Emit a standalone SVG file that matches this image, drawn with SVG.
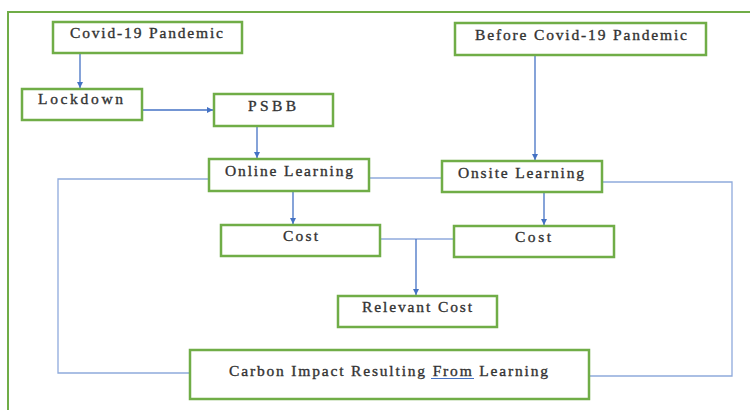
<svg xmlns="http://www.w3.org/2000/svg" width="750" height="410" viewBox="0 0 750 410">
<defs>
<marker id="ah" viewBox="0 0 10 10" refX="10" refY="5" markerWidth="6" markerHeight="6" markerUnits="userSpaceOnUse" orient="auto">
<path d="M0,0 L10,5 L0,10 z" fill="#4472C4"/>
</marker>
<style>
.box{fill:#fff;stroke:#70AD47;stroke-width:2.5}
.t{font-family:"Liberation Serif","Times New Roman",serif;font-size:15.5px;fill:#333;stroke:#333;stroke-width:0.35}
.arr{stroke:#4472C4;stroke-width:1.3;fill:none;marker-end:url(#ah)}
.ln{stroke:#8FAADC;stroke-width:1.3;fill:none}
</style>
</defs>
<rect width="750" height="410" fill="#fff"/>
<path d="M8,410 V12 H750" fill="none" stroke="#70AD47" stroke-width="2"/>
<g id="connectors">
<line class="arr" x1="80" y1="53" x2="80" y2="88"/>
<line class="arr" x1="142" y1="110" x2="213" y2="110"/>
<line class="arr" x1="257" y1="126" x2="257" y2="158"/>
<line class="arr" x1="535" y1="55" x2="535" y2="160"/>
<line class="arr" x1="293" y1="191" x2="293" y2="224"/>
<line class="arr" x1="544" y1="192" x2="544" y2="225"/>
<path class="ln" d="M380,239 H454"/>
<line class="arr" x1="416" y1="239" x2="416" y2="295"/>
<path class="ln" d="M209,179 H58 V373 H190"/>
<path class="ln" d="M369,178 H442"/>
<path class="ln" d="M602,182 H732 V376 H589"/>
</g>
<g id="covid"><rect class="box" x="53" y="22" width="189" height="31"/><text class="t" x="70" y="38" textLength="153" lengthAdjust="spacing">Covid-19 Pandemic</text></g>
<g id="lockdown"><rect class="box" x="22" y="89" width="120" height="31"/><text class="t" x="38" y="104" textLength="85" lengthAdjust="spacing">Lockdown</text></g>
<g id="psbb"><rect class="box" x="214" y="94" width="119" height="32"/><text class="t" x="248" y="111" textLength="48" lengthAdjust="spacing">PSBB</text></g>
<g id="before"><rect class="box" x="455" y="23" width="251" height="32"/><text class="t" x="475" y="40" textLength="212" lengthAdjust="spacing">Before Covid-19 Pandemic</text></g>
<g id="online"><rect class="box" x="209" y="159" width="160" height="32"/><text class="t" x="225" y="176" textLength="128" lengthAdjust="spacing">Online Learning</text></g>
<g id="onsite"><rect class="box" x="442" y="161" width="160" height="31"/><text class="t" x="458" y="178" textLength="126" lengthAdjust="spacing">Onsite Learning</text></g>
<g id="cost1"><rect class="box" x="221" y="225" width="159" height="31"/><text class="t" x="283" y="241" textLength="35" lengthAdjust="spacing">Cost</text></g>
<g id="cost2"><rect class="box" x="454" y="226" width="160" height="31"/><text class="t" x="515" y="242" textLength="36" lengthAdjust="spacing">Cost</text></g>
<g id="relevant"><rect class="box" x="338" y="296" width="159" height="31"/><text class="t" x="362" y="312" textLength="110" lengthAdjust="spacing">Relevant Cost</text></g>
<g id="carbon"><rect class="box" x="190" y="350" width="399" height="49"/><text class="t" x="229" y="376" textLength="319" lengthAdjust="spacing">Carbon Impact Resulting From Learning</text><line x1="431" y1="378.5" x2="474" y2="378.5" stroke="#4472C4" stroke-width="1.2"/></g>
</svg>
